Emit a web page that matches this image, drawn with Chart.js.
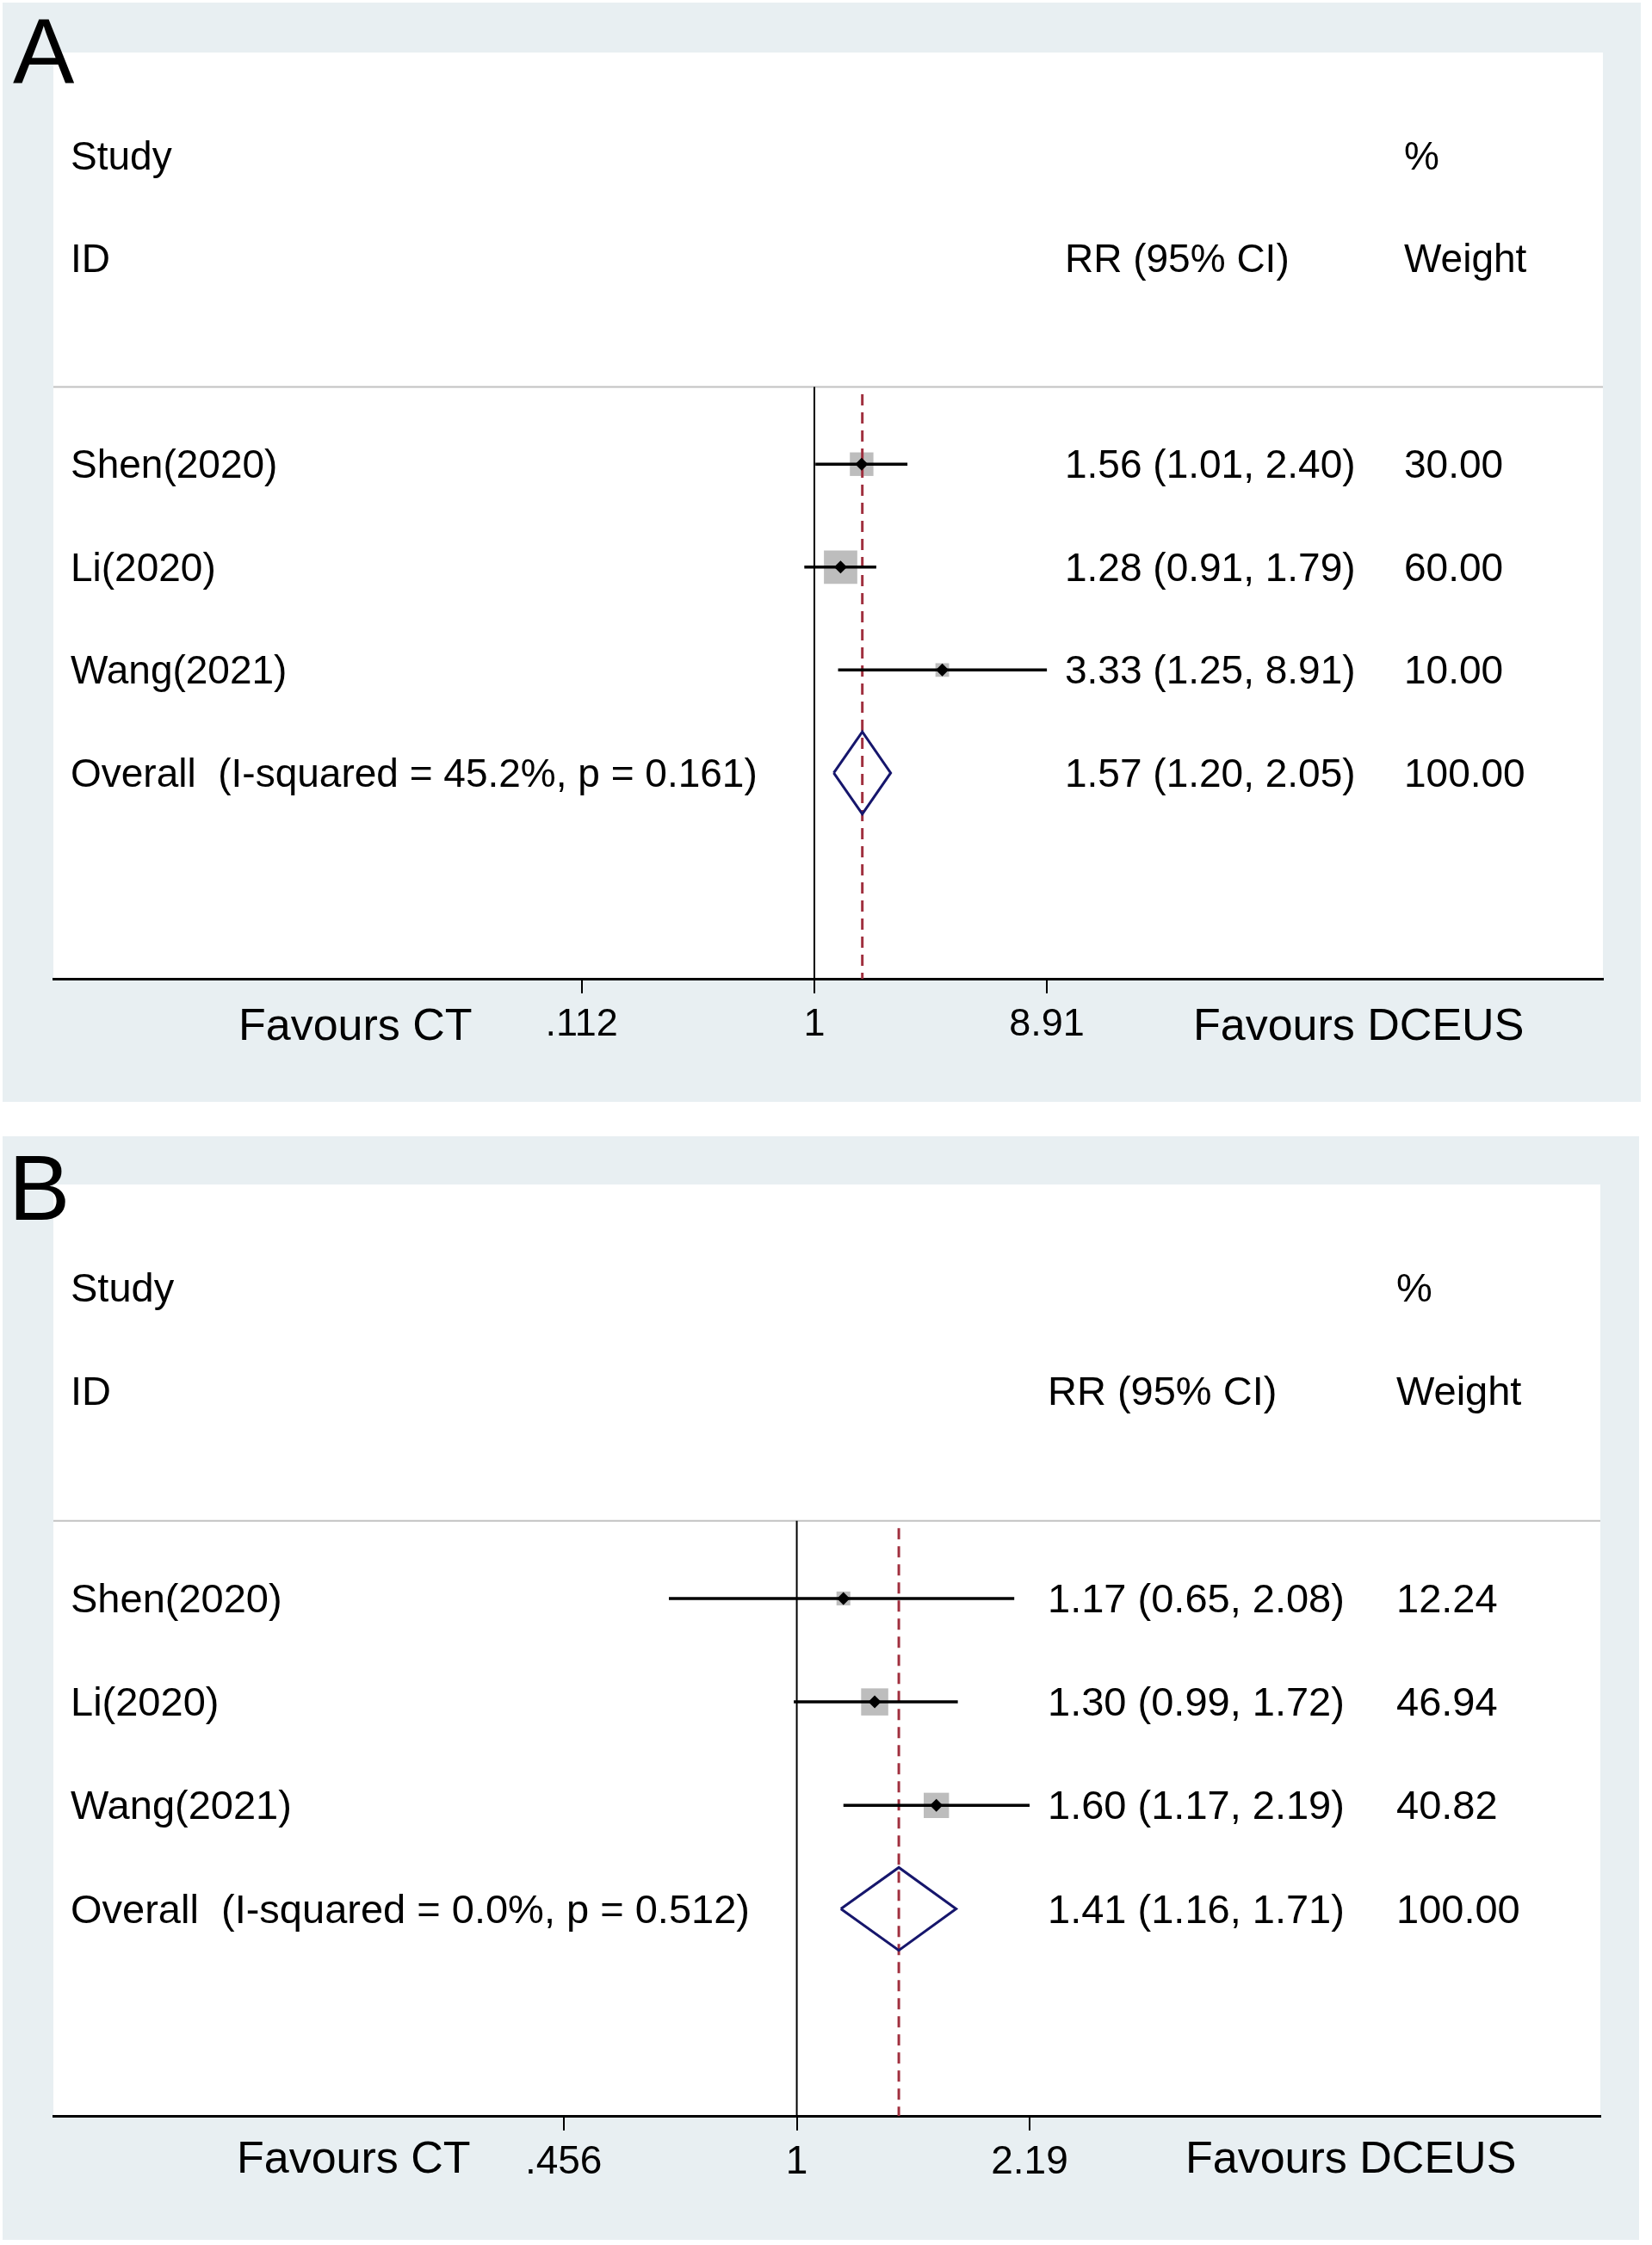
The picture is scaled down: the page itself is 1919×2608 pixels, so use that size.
<!DOCTYPE html>
<html><head><meta charset="utf-8">
<script src="https://cdn.jsdelivr.net/npm/chart.js@4.4.1/dist/chart.umd.min.js"></script>
<style>
html,body{margin:0;padding:0;background:#fff;}
canvas{position:absolute;}
#cA{left:3px;top:3px;}
#cB{left:3px;top:1320px;}
</style></head><body>
<canvas id="cA" width="1903" height="1277"></canvas>
<canvas id="cB" width="1901" height="1282"></canvas>
<script>
// ---------- data ----------
const studies = ['Shen(2020)', 'Li(2020)', 'Wang(2021)'];
const headerTop = ['Study', '%'];
const headerBottom = ['ID', 'RR (95% CI)', 'Weight'];
const favourLabels = ['Favours CT', 'Favours DCEUS'];

// Panel A
const rrA = [1.56, 1.28, 3.33];
const loA = [1.01, 0.91, 1.25];
const hiA = [2.40, 1.79, 8.91];
const wtA = [30.00, 60.00, 10.00];
const overallA = [1.57, 1.20, 2.05];
const hetA = ['45.2%', '0.161'];
const ticksA = [0.112, 1, 8.91];
const tickLabelsA = ['.112', '1', '8.91'];

// Panel B
const rrB = [1.17, 1.30, 1.60];
const loB = [0.65, 0.99, 1.17];
const hiB = [2.08, 1.72, 2.19];
const wtB = [12.24, 46.94, 40.82];
const overallB = [1.41, 1.16, 1.71];
const hetB = ['0.0%', '0.512'];
const ticksB = [0.456, 1, 2.19];
const tickLabelsB = ['.456', '1', '2.19'];

// ---------- drawing ----------
const FONT = "'Liberation Sans', Arial, sans-serif";
Chart.defaults.font.family = FONT;

function makeForest(id, d, s) {
  const rows = d.rr.map((_, i) => 4 + i);
  const ovRow = 4 + d.rr.length;
  const yMax = 9;
  const ds = [];
  ds.push({data: [{x: s.xMin, y: 3.25}, {x: s.xMax, y: 3.25}], showLine: true,
    borderColor: '#c2c2c2', borderWidth: 2, pointRadius: 0, order: 7});
  ds.push({data: d.rr.map((v, i) => ({x: v, y: rows[i]})), pointStyle: 'rect',
    pointRadius: d.wt.map(w => s.boxK * Math.sqrt(w) / Math.SQRT2),
    backgroundColor: '#bdbdbd', borderWidth: 0, order: 6});
  ds.push({data: [{x: 1, y: 3.25}, {x: 1, y: yMax}], showLine: true,
    borderColor: '#000', borderWidth: 2, pointRadius: 0, order: 5});
  ds.push({data: [{x: d.overall[0], y: 3.32}, {x: d.overall[0], y: yMax}], showLine: true,
    borderColor: '#a0303f', borderWidth: 3, borderDash: [13, 8], pointRadius: 0, order: 4});
  d.rr.forEach((v, i) => ds.push({data: [{x: d.lo[i], y: rows[i]}, {x: d.hi[i], y: rows[i]}],
    showLine: true, borderColor: '#000', borderWidth: 3.5, pointRadius: 0, order: 3}));
  const [o, ol, oh] = d.overall;
  ds.push({data: [{x: ol, y: ovRow}, {x: o, y: ovRow - s.dh}, {x: oh, y: ovRow}, {x: o, y: ovRow + s.dh}, {x: ol, y: ovRow}],
    showLine: true, borderColor: '#16166c', borderWidth: 3, pointRadius: 0, fill: false,
    borderJoinStyle: 'miter', order: 2});
  ds.push({data: d.rr.map((v, i) => ({x: v, y: rows[i]})), pointStyle: 'rectRot', pointRadius: 7.5,
    backgroundColor: '#000', borderWidth: 0, order: 1});

  const fmt = v => v.toFixed(2);
  const textPlugin = {
    id: 'forestText',
    beforeDraw(chart) {
      const ctx = chart.ctx, a = chart.chartArea;
      ctx.save();
      ctx.fillStyle = '#e8eff2';
      ctx.fillRect(0, 0, chart.width, chart.height);
      ctx.fillStyle = '#ffffff';
      ctx.fillRect(a.left, a.top, a.right - a.left, a.bottom - a.top);
      ctx.restore();
    },
    afterDraw(chart) {
      const ctx = chart.ctx, a = chart.chartArea, y = chart.scales.y;
      ctx.save();
      ctx.fillStyle = '#000';
      ctx.textBaseline = 'alphabetic';
      ctx.textAlign = 'left';
      ctx.font = s.textSize + 'px ' + FONT;
      const L = a.left + s.colLabel, E = a.left + s.colEst, W = a.left + s.colWt;
      const by = r => y.getPixelForValue(r) + s.baseOff;
      ctx.fillText(headerTop[0], L, by(1));
      ctx.fillText(headerTop[1], W, by(1));
      ctx.fillText(headerBottom[0], L, by(2));
      ctx.fillText(headerBottom[1], E, by(2));
      ctx.fillText(headerBottom[2], W, by(2));
      d.studies.forEach((name, i) => {
        ctx.fillText(name, L, by(rows[i]));
        ctx.fillText(fmt(d.rr[i]) + ' (' + fmt(d.lo[i]) + ', ' + fmt(d.hi[i]) + ')', E, by(rows[i]));
        ctx.fillText(fmt(d.wt[i]), W, by(rows[i]));
      });
      ctx.fillText('Overall  (I-squared = ' + d.het[0] + ', p = ' + d.het[1] + ')', L, by(ovRow));
      ctx.fillText(fmt(o) + ' (' + fmt(ol) + ', ' + fmt(oh) + ')', E, by(ovRow));
      ctx.fillText(fmt(d.wt.reduce((p, c) => p + c, 0)), W, by(ovRow));
      ctx.font = s.favSize + 'px ' + FONT;
      ctx.fillText(favourLabels[0], a.left + s.favCT, a.bottom + s.favDy);
      ctx.fillText(favourLabels[1], a.left + s.favDC, a.bottom + s.favDy);
      ctx.font = s.letterSize + 'px ' + FONT;
      ctx.fillText(s.letter, s.letterX, s.letterY);
      ctx.restore();
    }
  };

  return new Chart(document.getElementById(id), {
    type: 'scatter',
    data: {datasets: ds},
    plugins: [textPlugin],
    options: {
      responsive: false,
      animation: false,
      devicePixelRatio: 1,
      events: [],
      layout: {padding: s.pad},
      plugins: {legend: {display: false}, tooltip: {enabled: false}},
      elements: {line: {tension: 0}},
      scales: {
        x: {
          type: 'logarithmic', position: 'bottom', min: s.xMin, max: s.xMax, bounds: 'data',
          afterBuildTicks: sc => { sc.ticks = d.ticks.map(v => ({value: v})); },
          afterFit: sc => { sc.height = s.axisH; },
          ticks: {
            autoSkip: false, maxRotation: 0, color: '#000', padding: s.tickPad,
            font: {family: FONT, size: s.tickSize},
            callback: (v, i) => d.tickLabels[i]
          },
          grid: {display: true, drawOnChartArea: false, drawTicks: true, tickLength: 17, color: '#000', lineWidth: 2},
          border: {display: true, color: '#000', width: 3}
        },
        y: {type: 'linear', min: 0, max: yMax, reverse: true, display: false}
      }
    }
  });
}

makeForest('cA',
  {studies, rr: rrA, lo: loA, hi: hiA, wt: wtA, overall: overallA, het: hetA, ticks: ticksA, tickLabels: tickLabelsA},
  {xMin: 0.000779, xMax: 1664, pad: {left: 59, top: 58, right: 44, bottom: 0}, axisH: 143,
   boxK: 5.0, dh: 0.40, textSize: 46, tickSize: 45, tickPad: 10, baseOff: 16,
   colLabel: 20, colEst: 1175, colWt: 1569, favSize: 52, favCT: 215, favDC: 1324, favDy: 71,
   letter: 'A', letterSize: 107, letterX: 12, letterY: 94});

makeForest('cB',
  {studies, rr: rrB, lo: loB, hi: hiB, wt: wtB, overall: overallB, het: hetB, ticks: ticksB, tickLabels: tickLabelsB},
  {xMin: 0.0818, xMax: 14.97, pad: {left: 59, top: 56, right: 45, bottom: 0}, axisH: 144,
   boxK: 4.6, dh: 0.40, textSize: 47, tickSize: 46, tickPad: 10, baseOff: 16,
   colLabel: 20, colEst: 1155, colWt: 1560, favSize: 52, favCT: 213, favDC: 1315, favDy: 66,
   letter: 'B', letterSize: 107, letterX: 7, letterY: 97});
</script>
</body></html>
